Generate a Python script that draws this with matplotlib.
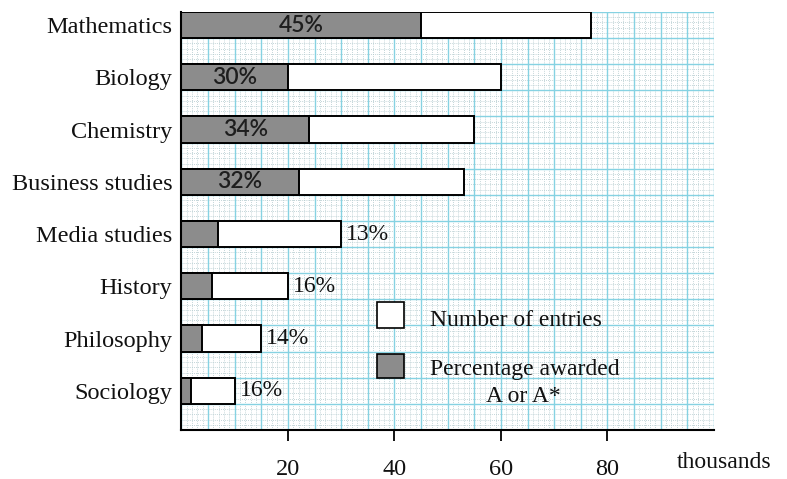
import numpy as np
import matplotlib.pyplot as plt
from matplotlib.patches import Rectangle

subjects = ['Mathematics', 'Biology', 'Chemistry', 'Business studies',
            'Media studies', 'History', 'Philosophy', 'Sociology']
entries = [77, 60, 55, 53, 30, 20, 15, 10]          # thousands
awarded = [45, 20, 24, 22, 6.8, 5.8, 3.9, 1.8]      # grey part, as drawn
pct_labels = ['45%', '30%', '34%', '32%', '13%', '16%', '14%', '16%']
inside = [True, True, True, True, False, False, False, False]

serif = 'Liberation Serif'
grey = '#8c8c8c'
cyan = '#86d2e2'

fig = plt.figure(figsize=(7.87, 4.79), dpi=100)
ax = fig.add_axes([0.2306, 0.1023, 0.6766, 0.8727])

y = np.arange(len(subjects))
ax.set_xlim(0, 100)
ax.set_ylim(7.75, -0.25)

# graph paper
ax.vlines(np.arange(0, 101, 1), -0.25, 7.75, color='#b0c8cc', lw=0.6,
          linestyles=(0, (1, 1.5)), zorder=0)
ax.hlines(np.arange(-0.25, 7.76, 0.1), 0, 100, color='#b0c8cc', lw=0.6,
          linestyles=(0, (1, 1.5)), zorder=0)
ax.vlines(np.arange(0, 101, 5), -0.25, 7.75, color=cyan, lw=1.0, zorder=1)
ax.hlines(np.arange(-0.25, 7.76, 0.5), 0, 100, color=cyan, lw=1.0, zorder=1)

ax.barh(y, entries, height=0.5, color='white', edgecolor='black', lw=1.4, zorder=3)
ax.barh(y, awarded, height=0.5, color=grey, edgecolor='black', lw=1.4, zorder=4)

for yi, tot, aw, lab, ins in zip(y, entries, awarded, pct_labels, inside):
    if ins:
        ax.text(aw / 2, yi, lab, ha='center', va='center', fontsize=16.5,
                family='Lato', weight='semibold', color='#1e1e1e', zorder=5)
    else:
        ax.annotate(lab, (tot, yi), xytext=(3.5, 0), textcoords='offset points',
                    ha='left', va='center', fontsize=17, family=serif,
                    color='#111111', zorder=5)

ax.set_yticks(y)
ax.set_yticklabels(subjects, family=serif, fontsize=17.5, color='#111111')
ax.tick_params(axis='y', length=0, pad=6.5)
ax.set_xticks([20, 40, 60, 80])
ax.set_xticklabels(['20', '40', '60', '80'], family=serif, fontsize=17.5,
                   color='#111111')
ax.tick_params(axis='x', direction='out', length=8, width=1.3, pad=13)

for s in ['top', 'right']:
    ax.spines[s].set_visible(False)
ax.spines['left'].set_linewidth(1.5)
ax.spines['bottom'].set_linewidth(1.5)
ax.spines['left'].set_zorder(6)

# legend drawn by hand (figure coordinates)
fig.add_artist(Rectangle((377 / 787, 1 - 328 / 479), 27 / 787, 26 / 479,
                         transform=fig.transFigure, facecolor='white',
                         edgecolor='black', lw=1.2, zorder=6))
fig.add_artist(Rectangle((377 / 787, 1 - 378 / 479), 27 / 787, 24 / 479,
                         transform=fig.transFigure, facecolor=grey,
                         edgecolor='black', lw=1.2, zorder=6))
fig.text(430 / 787, 1 - 320 / 479, 'Number of entries', ha='left', va='center',
         family=serif, fontsize=17, color='#111111')
fig.text(430 / 787, 1 - 369 / 479, 'Percentage awarded', ha='left', va='center',
         family=serif, fontsize=17, color='#111111')
fig.text(523 / 787, 1 - 396 / 479, 'A or A*', ha='center', va='center',
         family=serif, fontsize=17, color='#111111')

fig.text(677 / 787, 1 - 462 / 479, 'thousands', ha='left', va='center',
         family=serif, fontsize=17, color='#111111')

fig.savefig('out.png', dpi=100)
